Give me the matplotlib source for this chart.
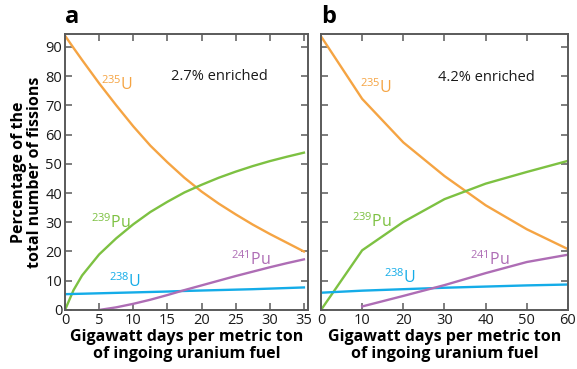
import matplotlib
matplotlib.use("Agg")
import matplotlib.pyplot as plt

plt.rcParams["font.family"] = ["Open Sans", "DejaVu Sans"]
plt.rcParams["mathtext.fontset"] = "custom"
plt.rcParams["mathtext.rm"] = "Open Sans"
plt.rcParams["mathtext.default"] = "regular"

# panel a: 2.7% enriched fuel (burnup in GWd/t)
burnup_a = [0, 1.25, 2.5, 5, 7.5, 10, 12.5, 15, 17.5, 20, 22.5, 25, 27.5, 30, 32.5, 35]
u235_a = [93.8, 89.6, 85.5, 77.5, 70, 62.8, 56.2, 50.5, 45.2, 40.5, 36.4, 32.7, 29.2, 26, 23, 20]
pu239_a = [0, 6.8, 11.8, 19, 24.5, 29.3, 33.5, 37, 40.2, 42.8, 45.2, 47.3, 49.2, 50.9, 52.4, 53.8]
u238_a = [5.4, 5.48, 5.55, 5.7, 5.85, 6.0, 6.15, 6.3, 6.5, 6.65, 6.8, 6.95, 7.1, 7.3, 7.5, 7.7]
burnup_pu241_a = [5, 7.5, 10, 12.5, 15, 17.5, 20, 22.5, 25, 27.5, 30, 32.5, 35]
pu241_a = [0, 0.9, 2.1, 3.5, 5.1, 6.8, 8.4, 10, 11.6, 13.1, 14.6, 16, 17.3]

# panel b: 4.2% enriched fuel
burnup_b = [0, 10, 20, 30, 40, 50, 60]
u235_b = [93.6, 72.2, 57.3, 45.8, 35.8, 27.6, 20.8]
pu239_b = [0, 20.4, 30.1, 37.9, 43.2, 47.2, 51]
u238_b = [5.9, 6.6, 7.1, 7.6, 8.0, 8.4, 8.7]
burnup_pu241_b = [10, 20, 30, 40, 50, 60]
pu241_b = [1.2, 4.8, 8.5, 12.6, 16.4, 18.9]

ORANGE = "#F5A443"
GREEN = "#7DC142"
BLUE = "#14ACE8"
PURPLE = "#AE6DB5"
SPINE = "#5a5a5a"

fig = plt.figure(figsize=(5.77, 3.69), dpi=100)
ax_a = fig.add_axes([0.1127, 0.160, 0.4211, 0.748])
ax_b = fig.add_axes([0.5563, 0.160, 0.4281, 0.748])


def style_axes(ax, xticks, xmax, show_ylabels):
    ax.set_xlim(0, xmax)
    ax.set_ylim(0, 94.4)
    ax.set_xticks(xticks)
    ax.set_yticks(range(0, 100, 10))
    ax.tick_params(direction="in", top=True, right=True, length=5, width=1.1,
                   color=SPINE, labelsize=10.5, labelcolor="#1a1a1a", pad=2)
    if not show_ylabels:
        ax.tick_params(labelleft=False)
    for sp in ax.spines.values():
        sp.set_color(SPINE)
        sp.set_linewidth(1.4)
    ax.set_xlabel("Gigawatt days per metric ton\nof ingoing uranium fuel",
                  fontsize=11.5, fontweight="bold", linespacing=1.05, labelpad=1)


lw = 1.7
ax_a.plot(burnup_a, u235_a, color=ORANGE, lw=lw)
ax_a.plot(burnup_a, pu239_a, color=GREEN, lw=lw)
ax_a.plot(burnup_a, u238_a, color=BLUE, lw=lw)
ax_a.plot(burnup_pu241_a, pu241_a, color=PURPLE, lw=lw)
style_axes(ax_a, range(0, 36, 5), 35.6, True)
ax_a.set_ylabel("Percentage of the\ntotal number of fissions", fontsize=11.5,
                fontweight="bold", linespacing=0.95, labelpad=2)

ax_b.plot(burnup_b, u235_b, color=ORANGE, lw=lw)
ax_b.plot(burnup_b, pu239_b, color=GREEN, lw=lw)
ax_b.plot(burnup_b, u238_b, color=BLUE, lw=lw)
ax_b.plot(burnup_pu241_b, pu241_b, color=PURPLE, lw=lw)
style_axes(ax_b, range(0, 61, 10), 60, False)

# isotope labels
fs = 11.5
ax_a.text(7.6, 77, r"$^{235}$U", color=ORANGE, fontsize=fs, ha="center", va="center")
ax_a.text(6.7, 30, r"$^{239}$Pu", color=GREEN, fontsize=fs, ha="center", va="center")
ax_a.text(8.8, 9.8, r"$^{238}$U", color=BLUE, fontsize=fs, ha="center", va="center")
ax_a.text(27.3, 17.3, r"$^{241}$Pu", color=PURPLE, fontsize=fs, ha="center", va="center")
ax_a.text(22.6, 80, "2.7% enriched", color="#1a1a1a", fontsize=10.5, ha="center", va="center")

ax_b.text(13.3, 76, r"$^{235}$U", color=ORANGE, fontsize=fs, ha="center", va="center")
ax_b.text(12.3, 30.2, r"$^{239}$Pu", color=GREEN, fontsize=fs, ha="center", va="center")
ax_b.text(19.2, 11, r"$^{238}$U", color=BLUE, fontsize=fs, ha="center", va="center")
ax_b.text(41, 17.3, r"$^{241}$Pu", color=PURPLE, fontsize=fs, ha="center", va="center")
ax_b.text(40.2, 79.5, "4.2% enriched", color="#1a1a1a", fontsize=10.5, ha="center", va="center")

# panel letters
fig.text(65 / 577, 1 - 5 / 369, "a", fontsize=17, fontweight="bold", ha="left", va="top")
fig.text(321 / 577, 1 - 5 / 369, "b", fontsize=17, fontweight="bold", ha="left", va="top")

fig.savefig("out.png", dpi=100)
